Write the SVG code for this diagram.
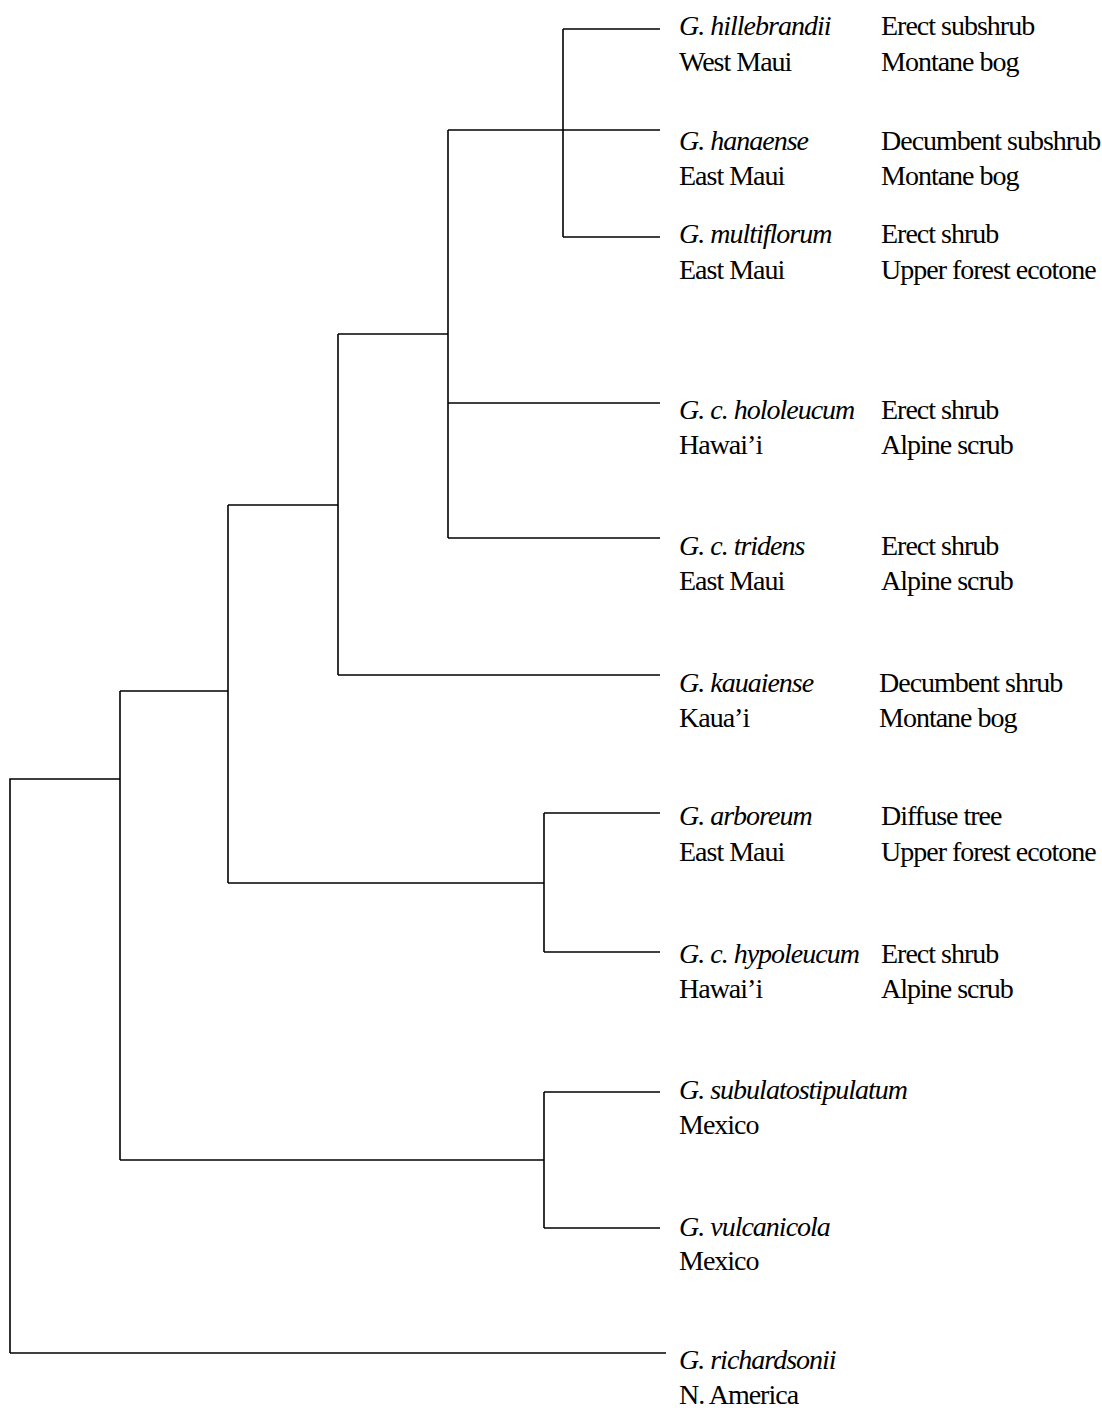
<svg xmlns="http://www.w3.org/2000/svg" width="1102" height="1410" viewBox="0 0 1102 1410">
<style>
.t{font-family:"Liberation Serif","Times New Roman",serif;font-size:28px;letter-spacing:-1px;fill:#000}
.i{font-style:italic}
.c path{fill:none;stroke:#000;stroke-width:1.6}
</style>
<rect width="1102" height="1410" fill="#fff"/>
<g id="connectors" class="c">
<path d="M10,1353 H666"/>
<path d="M10,1353 V779 H120"/>
<path d="M120,691 V1160"/>
<path d="M120,691 H228"/>
<path d="M120,1160 H544"/>
<path d="M544,1092 V1228"/>
<path d="M544,1092 H660"/>
<path d="M544,1228 H660"/>
<path d="M228,505 V883"/>
<path d="M228,883 H544"/>
<path d="M544,813 V952"/>
<path d="M544,813 H660"/>
<path d="M544,952 H660"/>
<path d="M228,505 H338"/>
<path d="M338,334 V675"/>
<path d="M338,675 H660"/>
<path d="M338,334 H448"/>
<path d="M448,130 V538"/>
<path d="M448,403 H660"/>
<path d="M448,538 H660"/>
<path d="M448,130 H557"/>
<path d="M557,130 H660"/>
<path d="M563,29 V237"/>
<path d="M563,29 H660"/>
<path d="M563,237 H660"/>
</g>
<g id="hillebrandii" class="t"><text x="679" y="35" class="i">G. hillebrandii</text><text x="679" y="71">West Maui</text><text x="881" y="35">Erect subshrub</text><text x="881" y="71">Montane bog</text></g>
<g id="hanaense" class="t"><text x="679" y="150" class="i">G. hanaense</text><text x="679" y="185">East Maui</text><text x="881" y="150">Decumbent subshrub</text><text x="881" y="185">Montane bog</text></g>
<g id="multiflorum" class="t"><text x="679" y="243" class="i">G. multiflorum</text><text x="679" y="279">East Maui</text><text x="881" y="243">Erect shrub</text><text x="881" y="279">Upper forest ecotone</text></g>
<g id="hololeucum" class="t"><text x="679" y="419" class="i">G. c. hololeucum</text><text x="679" y="454">Hawai’i</text><text x="881" y="419">Erect shrub</text><text x="881" y="454">Alpine scrub</text></g>
<g id="tridens" class="t"><text x="679" y="555" class="i">G. c. tridens</text><text x="679" y="590">East Maui</text><text x="881" y="555">Erect shrub</text><text x="881" y="590">Alpine scrub</text></g>
<g id="kauaiense" class="t"><text x="679" y="692" class="i">G. kauaiense</text><text x="679" y="727">Kaua’i</text><text x="879" y="692">Decumbent shrub</text><text x="879" y="727">Montane bog</text></g>
<g id="arboreum" class="t"><text x="679" y="825" class="i">G. arboreum</text><text x="679" y="861">East Maui</text><text x="881" y="825">Diffuse tree</text><text x="881" y="861">Upper forest ecotone</text></g>
<g id="hypoleucum" class="t"><text x="679" y="963" class="i">G. c. hypoleucum</text><text x="679" y="998">Hawai’i</text><text x="881" y="963">Erect shrub</text><text x="881" y="998">Alpine scrub</text></g>
<g id="subulatostipulatum" class="t"><text x="679" y="1099" class="i">G. subulatostipulatum</text><text x="679" y="1134">Mexico</text></g>
<g id="vulcanicola" class="t"><text x="679" y="1236" class="i">G. vulcanicola</text><text x="679" y="1270">Mexico</text></g>
<g id="richardsonii" class="t"><text x="679" y="1369" class="i">G. richardsonii</text><text x="679" y="1404">N. America</text></g>
</svg>
